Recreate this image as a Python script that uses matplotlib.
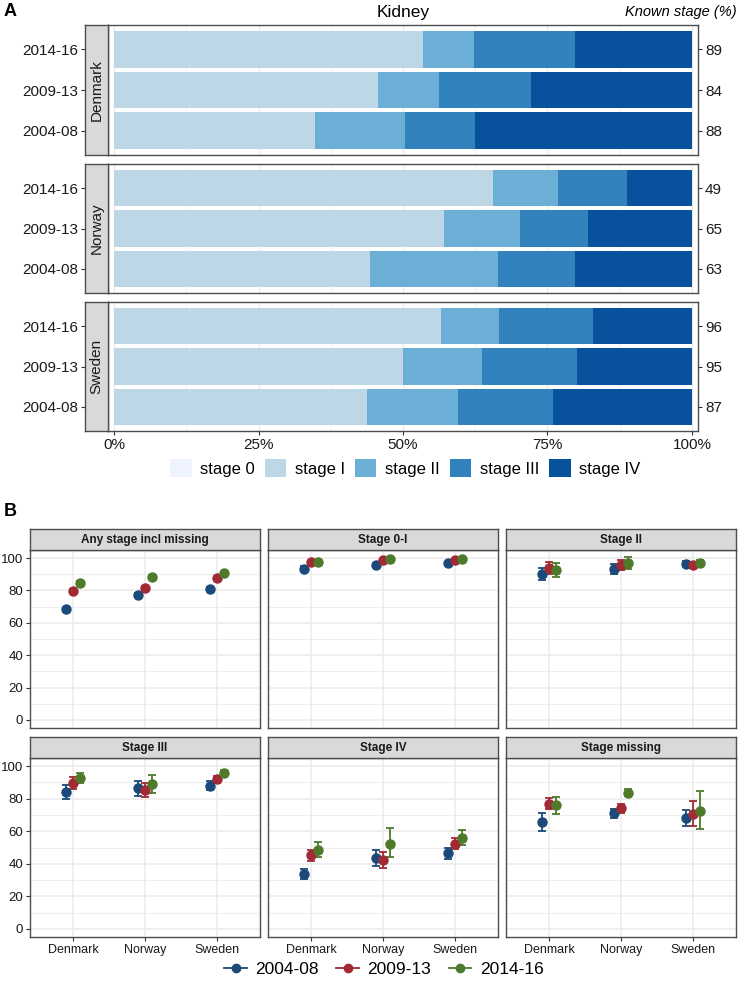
import matplotlib
matplotlib.use("Agg")
import matplotlib.pyplot as plt
from matplotlib.patches import Patch
from matplotlib.lines import Line2D
import numpy as np

plt.rcParams['font.family'] = ['Liberation Sans', 'DejaVu Sans']

# ---------------- Data: panel A ----------------
countries = ["Denmark", "Norway", "Sweden"]
periods = ["2004-08", "2009-13", "2014-16"]          # bottom -> top
stages = ["stage 0", "stage I", "stage II", "stage III", "stage IV"]
stage_colors = ["#eff3ff", "#bdd7e7", "#6baed6", "#3182bd", "#08519c"]

# percentages per period (2004-08, 2009-13, 2014-16)
dk_stage0 = [0.0, 0.0, 0.0]
dk_stage1 = [34.7, 45.6, 53.4]
dk_stage2 = [15.6, 10.6, 8.9]
dk_stage3 = [12.1, 15.9, 17.4]
dk_stage4 = [37.6, 27.9, 20.3]

no_stage0 = [0.0, 0.0, 0.0]
no_stage1 = [44.3, 57.1, 65.5]
no_stage2 = [22.2, 13.2, 11.4]
no_stage3 = [13.3, 11.7, 11.9]
no_stage4 = [20.2, 18.0, 11.2]

se_stage0 = [0.0, 0.0, 0.0]
se_stage1 = [43.7, 50.0, 56.5]
se_stage2 = [15.8, 13.6, 10.1]
se_stage3 = [16.5, 16.5, 16.2]
se_stage4 = [24.0, 19.9, 17.2]

dk_known = [88, 84, 89]
no_known = [63, 65, 49]
se_known = [87, 95, 96]

stage_data = {
    "Denmark": [dk_stage0, dk_stage1, dk_stage2, dk_stage3, dk_stage4],
    "Norway": [no_stage0, no_stage1, no_stage2, no_stage3, no_stage4],
    "Sweden": [se_stage0, se_stage1, se_stage2, se_stage3, se_stage4],
}
known_data = {"Denmark": dk_known, "Norway": no_known, "Sweden": se_known}

# ---------------- Data: panel B ----------------
facets = ["Any stage incl missing", "Stage 0-I", "Stage II",
          "Stage III", "Stage IV", "Stage missing"]
period_colors = ["#1b4a7a", "#a12a35", "#4e7a2a"]

# each: [Denmark, Norway, Sweden] for each period; est, low, high
any_est = [[68.5, 77.4, 81.2], [79.9, 81.6, 87.6], [84.9, 88.4, 90.9]]
any_lo = [[67.6, 76.6, 80.4], [79.0, 80.7, 86.9], [84.0, 87.5, 90.2]]
any_hi = [[69.4, 78.2, 82.0], [80.8, 82.5, 88.3], [85.8, 89.3, 91.6]]

s01_est = [[93.5, 95.8, 96.9], [97.3, 98.8, 99.1], [97.3, 99.4, 99.7]]
s01_lo = [[91.9, 94.9, 96.2], [96.4, 98.2, 98.6], [96.6, 98.9, 99.3]]
s01_hi = [[95.1, 96.7, 97.6], [98.2, 99.4, 99.6], [98.0, 99.9, 100.0]]

s2_est = [[90.3, 93.4, 96.4], [93.6, 95.7, 95.5], [92.5, 96.7, 96.9]]
s2_lo = [[86.7, 90.4, 94.9], [89.9, 92.6, 94.0], [88.3, 93.0, 94.9]]
s2_hi = [[93.9, 96.4, 97.9], [97.3, 98.8, 97.0], [96.7, 100.4, 98.9]]

s3_est = [[84.1, 86.8, 87.8], [89.7, 85.2, 92.0], [92.8, 89.1, 95.7]]
s3_lo = [[79.6, 81.9, 85.4], [86.2, 80.8, 89.9], [89.5, 83.7, 94.0]]
s3_hi = [[88.7, 91.1, 90.7], [93.2, 89.9, 94.0], [95.9, 94.8, 97.5]]

s4_est = [[33.8, 43.3, 46.4], [45.4, 42.3, 52.4], [48.7, 52.2, 56.1]]
s4_lo = [[30.7, 38.4, 42.9], [41.9, 37.7, 49.1], [43.9, 44.1, 51.5]]
s4_hi = [[36.9, 48.5, 49.9], [48.7, 47.4, 56.1], [53.4, 61.9, 60.8]]

sm_est = [[65.4, 70.9, 68.0], [76.9, 74.2, 70.7], [75.9, 83.7, 72.4]]
sm_lo = [[60.0, 68.0, 63.3], [73.4, 71.5, 63.1], [70.5, 81.6, 61.6]]
sm_hi = [[70.9, 73.8, 72.8], [80.2, 76.9, 78.8], [81.0, 86.0, 84.7]]

facet_data = {
    "Any stage incl missing": (any_est, any_lo, any_hi),
    "Stage 0-I": (s01_est, s01_lo, s01_hi),
    "Stage II": (s2_est, s2_lo, s2_hi),
    "Stage III": (s3_est, s3_lo, s3_hi),
    "Stage IV": (s4_est, s4_lo, s4_hi),
    "Stage missing": (sm_est, sm_lo, sm_hi),
}

# ---------------- Figure ----------------
W, H = 739, 984
fig = plt.figure(figsize=(W / 100, H / 100), dpi=100)


def ax_px(x0, y0, x1, y1, **kw):
    return fig.add_axes([x0 / W, 1 - y1 / H, (x1 - x0) / W, (y1 - y0) / H], **kw)


BORDER = "#4d4d4d"
GRID = "#ebebeb"
STRIP = "#d9d9d9"

# ---- Panel A ----
fig.text(4 / W, 1 - 12 / H, "A", fontsize=13, fontweight="bold", va="center", ha="left")
fig.text(403 / W, 1 - 12 / H, "Kidney", fontsize=12.5, va="center", ha="center")
fig.text(737 / W, 1 - 12 / H, "Known stage (%)", fontsize=10.5, style="italic",
         va="center", ha="right")

rows_A = [(25, 155), (164, 293), (302, 431)]
px0, px1 = 108, 698
ypos = np.arange(1, len(periods) + 1)
for ci, country in enumerate(countries):
    y0, y1 = rows_A[ci]
    ax = ax_px(px0, y0, px1, y1)
    ax.set_xlim(-1.04, 101.04)
    ax.set_ylim(0.4, 3.6)
    for g in [0, 25, 50, 75, 100]:
        ax.axvline(g, color=GRID, lw=1.0, zorder=0)
    for g in [12.5, 37.5, 62.5, 87.5]:
        ax.axvline(g, color=GRID, lw=0.5, zorder=0)
    left = np.zeros(len(periods))
    for si, vals in enumerate(stage_data[country]):
        v = np.array(vals)
        ax.barh(ypos, v, left=left, height=0.9, color=stage_colors[si], lw=0, zorder=2)
        left = left + v
    ax.set_yticks([])
    if ci == 2:
        ax.set_xticks([0, 25, 50, 75, 100])
        ax.set_xticklabels(["0%", "25%", "50%", "75%", "100%"], fontsize=11, color="#1a1a1a")
        ax.tick_params(axis="x", length=3, color="#333333", pad=2)
    else:
        ax.set_xticks([])
    for s in ax.spines.values():
        s.set_color(BORDER)
        s.set_linewidth(1.0)
    ax2 = ax.twinx()
    ax2.set_ylim(0.4, 3.6)
    ax2.set_yticks(ypos)
    ax2.set_yticklabels([str(k) for k in known_data[country]], fontsize=11, color="#1a1a1a")
    ax2.tick_params(axis="y", length=3, color="#333333", pad=2)
    for s in ax2.spines.values():
        s.set_visible(False)
    # strip on the left, carrying the period tick labels
    sax = ax_px(85, y0, px0, y1)
    sax.set_facecolor(STRIP)
    sax.set_xticks([])
    sax.set_ylim(0.4, 3.6)
    sax.set_yticks(ypos)
    sax.set_yticklabels(periods, fontsize=11, color="#1a1a1a")
    sax.tick_params(axis="y", length=3, color="#333333", pad=2)
    for s in sax.spines.values():
        s.set_color(BORDER)
        s.set_linewidth(1.0)
    sax.text(0.5, 0.5, country, rotation=90, ha="center", va="center",
             fontsize=11, color="#1a1a1a", transform=sax.transAxes)

handles_A = [Patch(facecolor=c, edgecolor="none", label=l) for c, l in zip(stage_colors, stages)]
fig.legend(handles=handles_A, loc="center", bbox_to_anchor=(405 / W, 1 - 468 / H),
           ncol=5, frameon=False, fontsize=12, handlelength=1.3, handleheight=1.3,
           handletextpad=0.5, columnspacing=0.6)

# ---- Panel B ----
fig.text(4 / W, 1 - 512 / H, "B", fontsize=13, fontweight="bold", va="center", ha="left")

cols_B = [(30, 260), (268, 498), (506, 736)]
rows_B = [(529, 550, 728), (737, 758, 937)]
offsets = [-0.1, 0.0, 0.1]
xs = np.arange(1, len(countries) + 1)
for fi, facet in enumerate(facets):
    r, c = divmod(fi, 3)
    x0, x1 = cols_B[c]
    st, pt, pb = rows_B[r]
    ax = ax_px(x0, pt, x1, pb)
    ax.set_xlim(0.4, 3.6)
    ax.set_ylim(-5, 105)
    for g in range(10, 100, 20):
        ax.axhline(g, color=GRID, lw=0.6, zorder=0)
    for g in range(0, 101, 20):
        ax.axhline(g, color=GRID, lw=1.1, zorder=0)
    for g in xs:
        ax.axvline(g, color=GRID, lw=1.1, zorder=0)
    est, lo, hi = facet_data[facet]
    for pi in range(len(periods)):
        e = np.array(est[pi])
        l = np.array(lo[pi])
        h = np.array(hi[pi])
        ax.errorbar(xs + offsets[pi], e, yerr=[e - l, h - e], fmt="o",
                    color=period_colors[pi], ms=6.5, elinewidth=1.3, capsize=2.8,
                    capthick=1.3, zorder=3)
    ax.set_yticks(range(0, 101, 20))
    ax.set_xticks(xs)
    if c == 0:
        ax.set_yticklabels([str(v) for v in range(0, 101, 20)], fontsize=9.5, color="#1a1a1a")
        ax.tick_params(axis="y", length=3, color="#333333", pad=2)
    else:
        ax.tick_params(axis="y", length=0, labelleft=False)
    if r == 1:
        ax.set_xticklabels(countries, fontsize=9, color="#1a1a1a")
        ax.tick_params(axis="x", length=3, color="#333333", pad=2)
    else:
        ax.tick_params(axis="x", length=0, labelbottom=False)
    for s in ax.spines.values():
        s.set_color(BORDER)
        s.set_linewidth(1.0)
    sax = ax_px(x0, st, x1, pt)
    sax.set_facecolor(STRIP)
    sax.set_xticks([])
    sax.set_yticks([])
    for s in sax.spines.values():
        s.set_color(BORDER)
        s.set_linewidth(1.0)
    sax.text(0.5, 0.5, facet, ha="center", va="center", fontsize=8.5,
             fontweight="bold", color="#1a1a1a", transform=sax.transAxes)

handles_B = [Line2D([0], [0], color=col, marker="o", ms=6, lw=1.3, label=p)
             for col, p in zip(period_colors, periods)]
fig.legend(handles=handles_B, loc="center", bbox_to_anchor=(384 / W, 1 - 969 / H),
           ncol=3, frameon=False, fontsize=12.5, handlelength=1.3,
           handletextpad=0.5, columnspacing=1.0)

fig.savefig("out.png", dpi=100)
